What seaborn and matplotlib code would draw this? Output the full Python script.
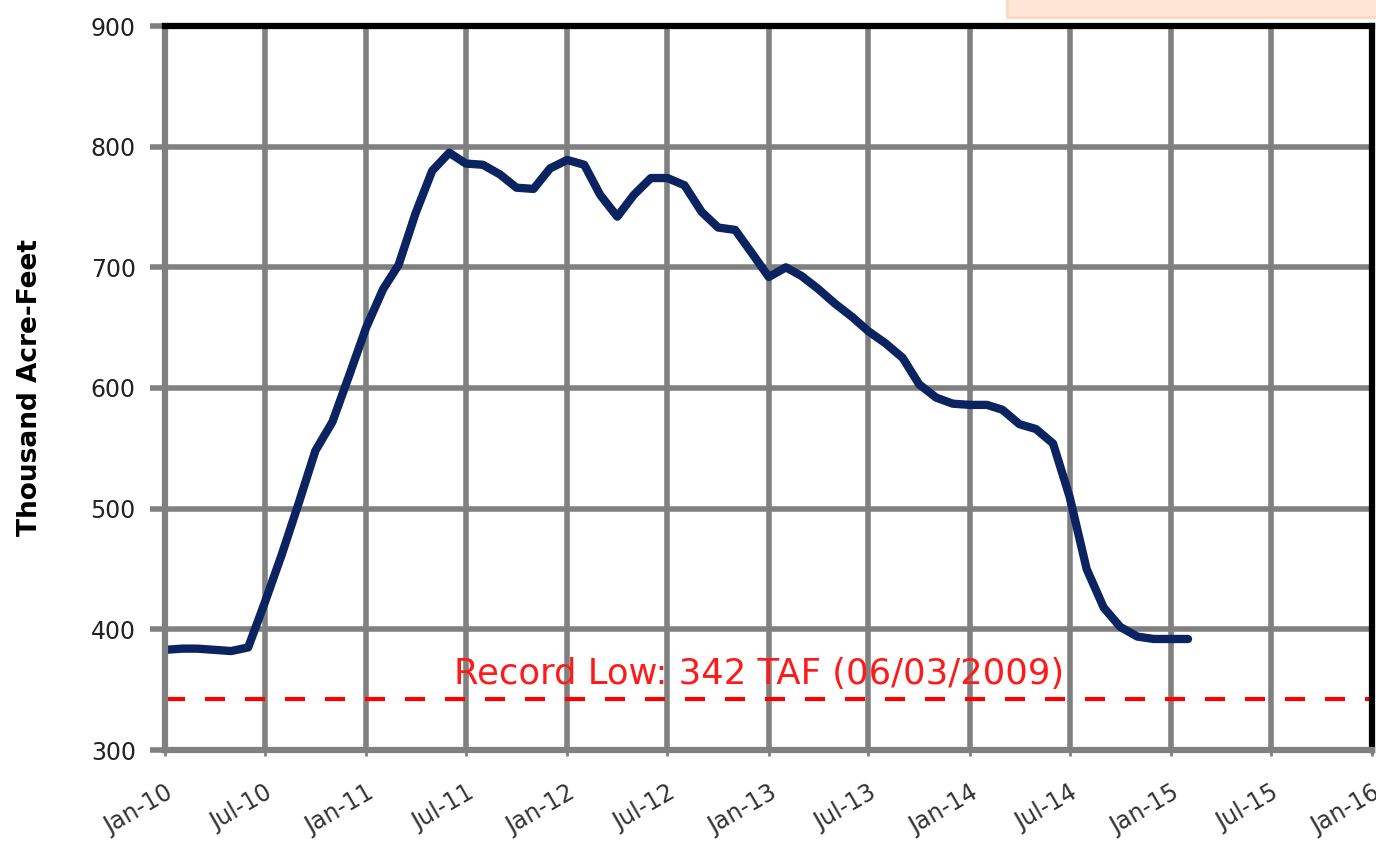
import numpy as np
import pandas as pd
import matplotlib
matplotlib.use("Agg")
import matplotlib.pyplot as plt
import matplotlib.dates as mdates
import seaborn as sns

# === Data (monthly) ===
start_month = "2010-01-01"
storage_taf = [383, 384, 384, 383, 382, 385, 422, 462, 505, 548, 572, 610,
               650, 682, 702, 745, 780, 795, 786, 785, 777, 766, 765, 782,
               789, 785, 760, 742, 760, 774, 774, 768, 746, 733, 731, 712,
               692, 700, 693, 682, 670, 659, 647, 637, 625, 603, 592, 587,
               586, 586, 582, 570, 566, 554, 510, 450, 418, 402, 394, 392,
               392, 392]
record_low = 342
record_label = "Record Low: 342 TAF (06/03/2009)"
y_ticks = [300, 400, 500, 600, 700, 800, 900]
x_start, x_end = "2010-01-01", "2016-01-01"

df = pd.DataFrame({
    "date": pd.date_range(start_month, periods=len(storage_taf), freq="MS"),
    "taf": storage_taf,
})

# === Plot ===
sns.set_theme(style="white")
plt.rcParams["font.family"] = ["DejaVu Sans"]

fig = plt.figure(figsize=(13.76, 8.44), dpi=100)
ax = fig.add_axes([165 / 1376, 1 - 750 / 844, (1372 - 165) / 1376, (750 - 26) / 844])

ax.grid(True, color="#808080", linewidth=4)
ax.set_axisbelow(True)

sns.lineplot(data=df, x="date", y="taf", ax=ax, color="#0b2360", linewidth=6,
             solid_joinstyle="round", solid_capstyle="round")
ax.axhline(record_low, color="#ff0000", linewidth=3, dashes=(4.8, 4.8))
ax.text(pd.Timestamp("2012-12-15"), 363, record_label, color="#ff1a1a",
        fontsize=25.5, ha="center", va="center")

ax.set_xlim(pd.Timestamp(x_start), pd.Timestamp(x_end))
ax.set_ylim(y_ticks[0], y_ticks[-1])
ax.set_yticks(y_ticks)
ax.xaxis.set_major_locator(mdates.MonthLocator(bymonth=[1, 7]))
ax.xaxis.set_major_formatter(mdates.DateFormatter("%b-%y"))
plt.setp(ax.get_xticklabels(), rotation=30, ha="right", rotation_mode="anchor")

ax.tick_params(axis="y", labelsize=17, labelcolor="#222222", length=11, width=4,
               color="#808080", pad=10, left=True)
ax.tick_params(axis="x", labelsize=17, labelcolor="#333333", length=4, width=2,
               color="#808080", pad=18, bottom=True)

ax.set_xlabel("")
ax.set_ylabel("Thousand Acre-Feet", fontsize=19, fontweight="bold", color="black",
              labelpad=34)

for side in ["left", "bottom"]:
    ax.spines[side].set_color("#808080")
    ax.spines[side].set_linewidth(4.5)
for side in ["top", "right"]:
    ax.spines[side].set_color("black")
    ax.spines[side].set_linewidth(4.5)

# cut-off legend box at the top right
fig.patches.append(plt.Rectangle((1007 / 1376, 1 - 17 / 844), 0.3, 0.03,
                                 transform=fig.transFigure, facecolor="#fde6d5",
                                 edgecolor="#fbd9c0", linewidth=2))

fig.savefig("out.png", dpi=100)
